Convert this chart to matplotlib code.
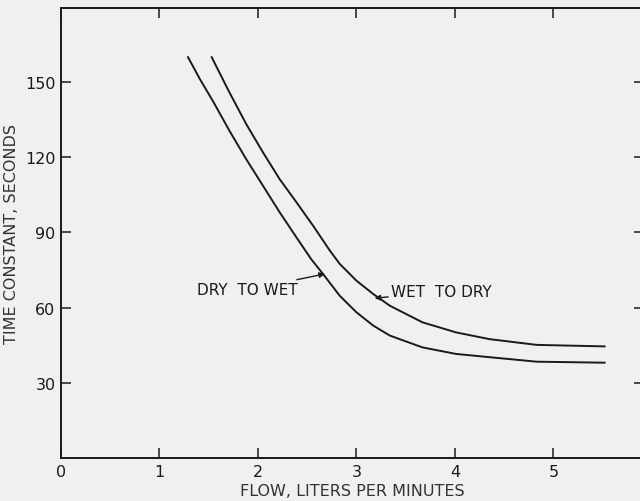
import numpy as np
import matplotlib; matplotlib.use("Agg"); import matplotlib.pyplot as plt

# curves (flow l/min, time constant s)
dry_x = [1.29, 1.41, 1.55, 1.71, 1.88, 2.05, 2.22, 2.39, 2.54, 2.66, 2.83, 3.00, 3.17,
         3.34, 3.67, 4.01, 4.35, 4.83, 5.52]
dry_y = [159.8, 151.1, 141.8, 130.5, 119.2, 108.6, 98.0, 88.0, 79.3, 73.4, 64.7, 58.1, 52.8,
         48.8, 44.1, 41.5, 40.2, 38.4, 38.0]
wet_x = [1.53, 1.71, 1.88, 2.05, 2.22, 2.39, 2.56, 2.73, 2.83, 3.00, 3.17, 3.34, 3.67,
         4.01, 4.35, 4.83, 5.52]
wet_y = [159.8, 145.8, 133.2, 121.9, 111.2, 102.0, 92.6, 82.7, 77.4, 70.7, 65.4, 60.7, 54.1,
         50.1, 47.4, 45.1, 44.5]
xticks = [0, 1, 2, 3, 4, 5]
yticks = [30, 60, 90, 120, 150]

bg = "#f0f0f0"
fig = plt.figure(figsize=(6.4, 5.02), dpi=100, facecolor=bg)
ax = fig.add_axes([61 / 640, 43 / 502, 583 / 640, 449.7 / 502], facecolor=bg)
ax.plot(dry_x, dry_y, color="#1a1a1a", lw=1.4)
ax.plot(wet_x, wet_y, color="#1a1a1a", lw=1.4)
ax.set_xlim(0, 5.92); ax.set_ylim(0, 179.3)
ax.set_xticks(xticks); ax.set_yticks(yticks)
ax.tick_params(direction="in", length=7, width=1.1, top=True, right=True,
               labelsize=11.5, colors="#1a1a1a")
ax.tick_params(axis="x", pad=4); ax.tick_params(axis="y", pad=4)
for s in ax.spines.values():
    s.set_linewidth(1.4); s.set_color("#1a1a1a")
ax.set_xlabel("FLOW, LITERS PER MINUTES", fontsize=11.5, color="#333333", labelpad=3)
ax.set_ylabel("TIME CONSTANT, SECONDS", fontsize=11.5, color="#333333", labelpad=4)

ax.annotate("DRY  TO WET", xy=(2.68, 73.4), xytext=(2.40, 67.0), fontsize=11,
            ha="right", va="center", color="#1a1a1a",
            arrowprops=dict(arrowstyle="-|>", color="#1a1a1a", lw=1.0,
                            mutation_scale=8, shrinkA=0, shrinkB=0))
ax.annotate("WET  TO DRY", xy=(3.185, 63.7), xytext=(3.35, 66.3), fontsize=11,
            ha="left", va="center", color="#1a1a1a",
            arrowprops=dict(arrowstyle="-|>", color="#1a1a1a", lw=1.0,
                            mutation_scale=8, shrinkA=0, shrinkB=0))

fig.savefig("out.png", dpi=100, facecolor=bg)
